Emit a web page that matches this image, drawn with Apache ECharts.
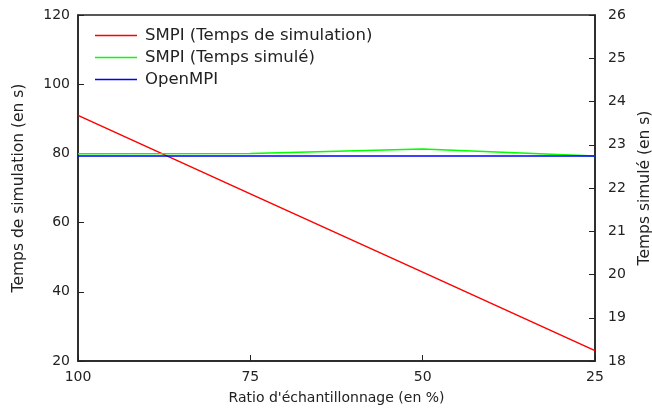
<!DOCTYPE html>
<html>
<head>
<meta charset="utf-8">
<script src="https://cdn.jsdelivr.net/npm/echarts@6/dist/echarts.min.js"></script>
<style>
  html, body { margin: 0; padding: 0; background: #fff; }
  #chart { width: 652px; height: 408px; }
</style>
</head>
<body>
<div id="chart"></div>
<script>
// Sampling ratio (%) and the three measured series
const ratios = [100, 75, 50, 25];
const smpiSimulationTime = [91, 68.3, 45.7, 23];        // left axis, seconds
const smpiSimulatedTime = [22.79, 22.80, 22.90, 22.74];  // right axis, seconds
const openMpiTime = [22.74, 22.74, 22.74, 22.74];        // right axis, seconds

const leftTicks = { min: 20, max: 120, step: 20 };
const rightTicks = { min: 18, max: 26, step: 1 };
const xTicks = { min: 25, max: 100, step: 25 };

const pairs = (xs, ys) => xs.map((x, i) => [x, ys[i]]);

const font = 'DejaVu Sans';
const ink = '#222';
const lineIcon = 'path://M0,0H42V1.6H0Z';

const chart = echarts.init(document.getElementById('chart'), null, { renderer: 'canvas' });

chart.setOption({
  animation: false,
  textStyle: { fontFamily: font, color: ink },
  grid: {
    left: 78, right: 57, top: 15, bottom: 47,
    outerBoundsMode: 'none',
    containLabel: false,
    show: true, borderColor: ink, borderWidth: 1.5, backgroundColor: 'transparent'
  },
  legend: {
    orient: 'vertical',
    left: 95, top: 27,
    padding: 0,
    itemWidth: 42, itemHeight: 20, itemGap: 5,
    icon: lineIcon,
    textStyle: { fontFamily: font, fontSize: 16.5, color: ink, padding: [0, 0, 0, 3] },
    data: ['SMPI (Temps de simulation)', 'SMPI (Temps simulé)', 'OpenMPI']
  },
  xAxis: {
    type: 'value',
    inverse: true,
    min: xTicks.min, max: xTicks.max, interval: xTicks.step,
    name: "Ratio d'échantillonnage (en %)",
    nameLocation: 'middle', nameGap: 30,
    nameTextStyle: { fontFamily: font, fontSize: 14, color: ink },
    axisLine: { lineStyle: { color: ink, width: 1.5 } },
    axisTick: { inside: true, length: 6, lineStyle: { color: ink } },
    axisLabel: { fontFamily: font, fontSize: 14, color: ink, margin: 9 },
    splitLine: { show: false }
  },
  yAxis: [
    {
      type: 'value',
      position: 'left',
      min: leftTicks.min, max: leftTicks.max, interval: leftTicks.step,
      name: 'Temps de simulation (en s)',
      nameLocation: 'middle', nameGap: 51, nameRotate: 90,
      nameTextStyle: { fontFamily: font, fontSize: 15.5, color: ink },
      axisLine: { show: true, lineStyle: { color: ink, width: 1.5 } },
      axisTick: { show: true, inside: true, length: 6, lineStyle: { color: ink } },
      axisLabel: { fontFamily: font, fontSize: 14, color: ink, margin: 8 },
      splitLine: { show: false }
    },
    {
      type: 'value',
      position: 'right',
      min: rightTicks.min, max: rightTicks.max, interval: rightTicks.step,
      name: 'Temps simulé (en s)',
      nameLocation: 'middle', nameGap: 32, nameRotate: 90,
      nameTextStyle: { fontFamily: font, fontSize: 15.5, color: ink },
      axisLine: { show: true, lineStyle: { color: ink, width: 1.5 } },
      axisTick: { show: true, inside: true, length: 6, lineStyle: { color: ink } },
      axisLabel: { fontFamily: font, fontSize: 14, color: ink, margin: 13 },
      splitLine: { show: false }
    }
  ],
  series: [
    {
      name: 'SMPI (Temps de simulation)',
      type: 'line', yAxisIndex: 0,
      data: pairs(ratios, smpiSimulationTime),
      symbol: 'none',
      lineStyle: { color: '#ff0000', width: 1.5 },
      itemStyle: { color: '#ff0000' }
    },
    {
      name: 'SMPI (Temps simulé)',
      type: 'line', yAxisIndex: 1,
      data: pairs(ratios, smpiSimulatedTime),
      symbol: 'none',
      lineStyle: { color: '#00ff00', width: 1.5 },
      itemStyle: { color: '#00ff00' }
    },
    {
      name: 'OpenMPI',
      type: 'line', yAxisIndex: 1,
      data: pairs(ratios, openMpiTime),
      symbol: 'none',
      lineStyle: { color: '#0000ff', width: 1.5 },
      itemStyle: { color: '#0000ff' }
    }
  ]
});
</script>
</body>
</html>
